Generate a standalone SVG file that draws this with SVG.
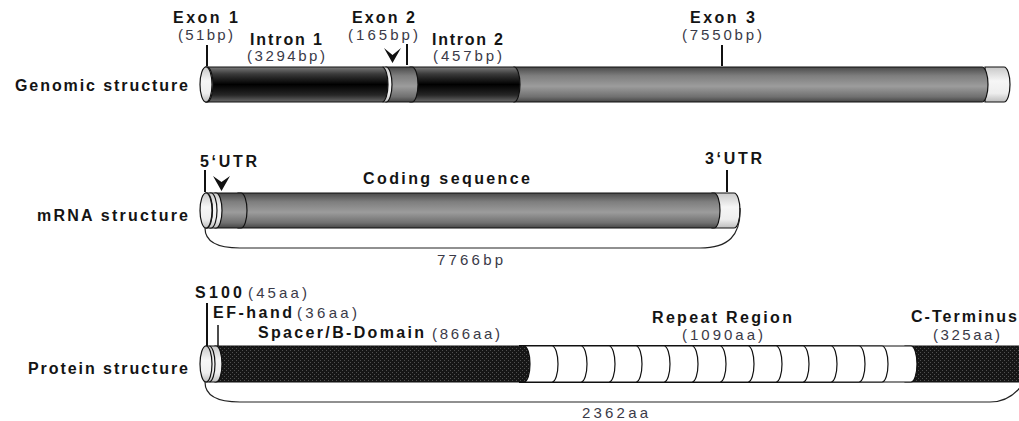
<svg xmlns="http://www.w3.org/2000/svg" width="1019" height="421" viewBox="0 0 1019 421">
<defs>
<linearGradient id="gBlack" x1="0" y1="0" x2="0" y2="1">
<stop offset="0" stop-color="#7a7a7a"/><stop offset="0.2" stop-color="#3a3a3a"/><stop offset="0.5" stop-color="#000"/><stop offset="0.8" stop-color="#262626"/><stop offset="1" stop-color="#6a6a6a"/>
</linearGradient>
<linearGradient id="gGray" x1="0" y1="0" x2="0" y2="1">
<stop offset="0" stop-color="#4a4a4a"/><stop offset="0.25" stop-color="#7e7e7e"/><stop offset="0.55" stop-color="#9c9c9c"/><stop offset="0.85" stop-color="#707070"/><stop offset="1" stop-color="#454545"/>
</linearGradient>
<linearGradient id="gLight" x1="0" y1="0" x2="0" y2="1">
<stop offset="0" stop-color="#c8c8c8"/><stop offset="0.4" stop-color="#f6f6f6"/><stop offset="0.75" stop-color="#eeeeee"/><stop offset="1" stop-color="#bdbdbd"/>
</linearGradient>
<pattern id="dots" width="4" height="4" patternUnits="userSpaceOnUse">
<rect width="4" height="4" fill="#161616"/><rect x="0" y="0" width="1" height="1" fill="#505050"/><rect x="2" y="2" width="1" height="1" fill="#505050"/>
</pattern>
<style>
.seg{stroke:#111;stroke-width:1.2}
.blk{fill:url(#gBlack)}
.gry{fill:url(#gGray)}
.lt{fill:url(#gLight)}
.pat{fill:url(#dots)}
.wht{fill:#fff}
.lb{font-family:"Liberation Sans",Arial,sans-serif;font-weight:bold;font-size:16px;fill:#141414}
.pr{font-family:"Liberation Sans",Arial,sans-serif;font-size:15px;fill:#3a3a48}
.tick{stroke:#111;stroke-width:2;fill:none}
.brk{stroke:#222;stroke-width:1.2;fill:none}
.chev{fill:#111}
</style>
</defs>
<rect width="1019" height="421" fill="#fff"/>

<g id="genomic">
<text class="lb" x="15" y="91" textLength="173" lengthAdjust="spacing">Genomic structure</text>
<path class="seg lt" d="M985 67 H1004 A6 17.5 0 0 1 1004 102 H985 Z"/>
<path class="seg gry" d="M514 67 H982 A6 17.5 0 0 1 982 102 H514 Z"/>
<path class="seg blk" d="M410 67 H514 A6 17.5 0 0 1 514 102 H410 Z"/>
<path class="seg gry" d="M386 67 H412 A6 17.5 0 0 1 412 102 H386 Z"/>
<path class="seg lt" d="M383 67 H386 A6 17.5 0 0 1 386 102 H383 Z"/>
<path class="seg blk" d="M206 67 H382 A6 17.5 0 0 1 382 102 H206 Z"/>
<path class="seg lt" d="M206 67 H207 A6 17.5 0 0 1 207 102 H206 Z"/>
<ellipse class="seg lt" cx="206" cy="84.5" rx="6" ry="17.5"/>
<text class="lb" x="173" y="23" textLength="65" lengthAdjust="spacing">Exon 1</text>
<text class="pr" x="178" y="40" textLength="55" lengthAdjust="spacing">(51bp)</text>
<text class="lb" x="250" y="45" textLength="72" lengthAdjust="spacing">Intron 1</text>
<text class="pr" x="247" y="61" textLength="78" lengthAdjust="spacing">(3294bp)</text>
<text class="lb" x="352" y="23" textLength="63" lengthAdjust="spacing">Exon 2</text>
<text class="pr" x="348" y="40" textLength="70" lengthAdjust="spacing">(165bp)</text>
<text class="lb" x="432" y="45" textLength="71" lengthAdjust="spacing">Intron 2</text>
<text class="pr" x="433" y="61" textLength="69" lengthAdjust="spacing">(457bp)</text>
<text class="lb" x="690" y="23" textLength="65" lengthAdjust="spacing">Exon 3</text>
<text class="pr" x="682" y="40" textLength="80" lengthAdjust="spacing">(7550bp)</text>
</g>

<g id="mrna">
<text class="lb" x="37" y="221" textLength="151" lengthAdjust="spacing">mRNA structure</text>
<path class="seg lt" d="M712 193 H734 A6 17.5 0 0 1 734 228 H712 Z"/>
<path class="seg gry" d="M238 193 H714 A6 17.5 0 0 1 714 228 H238 Z"/>
<path class="seg gry" d="M215 193 H241 A6 17.5 0 0 1 241 228 H215 Z"/>
<path class="seg lt" d="M210 193 H216 A6 17.5 0 0 1 216 228 H210 Z"/>
<path class="seg lt" d="M206 193 H211 A6 17.5 0 0 1 211 228 H206 Z"/>
<path class="seg lt" d="M206 193 H206.5 A6 17.5 0 0 1 206.5 228 H206 Z"/>
<ellipse class="seg lt" cx="206" cy="210.5" rx="6" ry="17.5"/>
<text class="lb" x="200" y="167" textLength="57" lengthAdjust="spacing">5‘UTR</text>
<text class="lb" x="363" y="184" textLength="167" lengthAdjust="spacing">Coding sequence</text>
<text class="lb" x="705" y="164" textLength="57" lengthAdjust="spacing">3‘UTR</text>
<text class="pr" x="437" y="265" textLength="66" lengthAdjust="spacing">7766bp</text>
</g>

<g id="protein">
<text class="lb" x="28" y="374" textLength="160" lengthAdjust="spacing">Protein structure</text>
<path class="seg pat" d="M905 346 H1025 V382 H905 Z"/>
<path class="seg wht" d="M520 346 H911 A6 18 0 0 1 911 382 H520 Z"/>
<path class="seg wht" d="M520 346 H882 A6 18 0 0 1 882 382 H520 Z"/>
<path class="seg wht" d="M520 346 H859 A6 18 0 0 1 859 382 H520 Z"/>
<path class="seg wht" d="M520 346 H831 A6 18 0 0 1 831 382 H520 Z"/>
<path class="seg wht" d="M520 346 H803 A6 18 0 0 1 803 382 H520 Z"/>
<path class="seg wht" d="M520 346 H776 A6 18 0 0 1 776 382 H520 Z"/>
<path class="seg wht" d="M520 346 H748 A6 18 0 0 1 748 382 H520 Z"/>
<path class="seg wht" d="M520 346 H720 A6 18 0 0 1 720 382 H520 Z"/>
<path class="seg wht" d="M520 346 H692 A6 18 0 0 1 692 382 H520 Z"/>
<path class="seg wht" d="M520 346 H664 A6 18 0 0 1 664 382 H520 Z"/>
<path class="seg wht" d="M520 346 H636 A6 18 0 0 1 636 382 H520 Z"/>
<path class="seg wht" d="M520 346 H609 A6 18 0 0 1 609 382 H520 Z"/>
<path class="seg wht" d="M520 346 H581 A6 18 0 0 1 581 382 H520 Z"/>
<path class="seg wht" d="M520 346 H552 A6 18 0 0 1 552 382 H520 Z"/>
<path class="seg pat" d="M215 346 H524 A6 18 0 0 1 524 382 H215 Z"/>
<path class="seg lt" d="M210 346 H216 A6 18 0 0 1 216 382 H210 Z"/>
<path class="seg lt" d="M206 346 H209 A6 18 0 0 1 209 382 H206 Z"/>
<ellipse class="seg lt" cx="206" cy="364" rx="6" ry="18"/>
<text class="lb" x="195" y="298" textLength="47" lengthAdjust="spacing">S100</text>
<text class="pr" x="248" y="298" textLength="59" lengthAdjust="spacing">(45aa)</text>
<text class="lb" x="213" y="318" textLength="79" lengthAdjust="spacing">EF-hand</text>
<text class="pr" x="297" y="318" textLength="60" lengthAdjust="spacing">(36aa)</text>
<text class="lb" x="258" y="338" textLength="166" lengthAdjust="spacing">Spacer/B-Domain</text>
<text class="pr" x="432" y="339" textLength="68" lengthAdjust="spacing">(866aa)</text>
<text class="lb" x="652" y="323" textLength="140" lengthAdjust="spacing">Repeat Region</text>
<text class="pr" x="682" y="340" textLength="81" lengthAdjust="spacing">(1090aa)</text>
<text class="lb" x="911" y="322" textLength="106" lengthAdjust="spacing">C-Terminus</text>
<text class="pr" x="933" y="340" textLength="67" lengthAdjust="spacing">(325aa)</text>
<text class="pr" x="582" y="418" textLength="66" lengthAdjust="spacing">2362aa</text>
</g>

<g id="connectors">
<line class="tick" x1="207" y1="45" x2="207" y2="66"/>
<line class="tick" x1="407" y1="44" x2="407" y2="65"/>
<line class="tick" x1="722" y1="45" x2="722" y2="66"/>
<polygon class="chev" points="384,48 392.5,55 401,48 392.5,63"/>
<line class="tick" x1="205" y1="170" x2="205" y2="192"/>
<polygon class="chev" points="213,176 221.5,182 230,176 221.5,191"/>
<line class="tick" x1="727" y1="170" x2="727" y2="192"/>
<line class="tick" x1="207" y1="303" x2="207" y2="346"/>
<line class="tick" x1="218" y1="325" x2="218" y2="346" style="stroke-width:1.5"/>
<path class="brk" d="M205 228 C205 243 220 248 240 248 L700 248 C728 248 741 236 740 208"/>
<path class="brk" d="M205 382 C205 397 220 402 240 402 L990 402 C1004 402 1014 396 1022 385"/>
</g>
</svg>
